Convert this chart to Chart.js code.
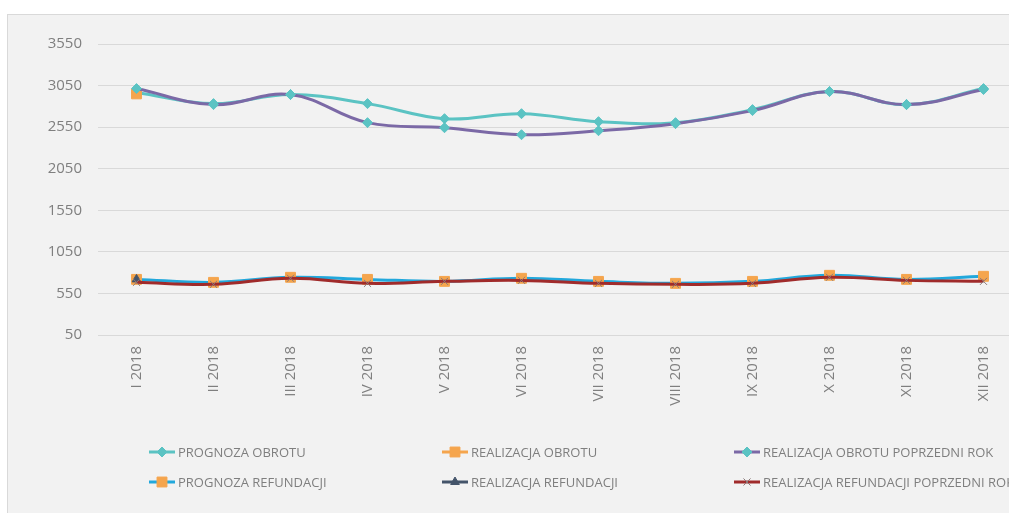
<!DOCTYPE html>
<html>
<head>
<meta charset="utf-8">
<script src="https://cdn.jsdelivr.net/npm/chart.js@4.4.1/dist/chart.umd.min.js"></script>
<style>
  html, body { margin: 0; padding: 0; background: #fff; overflow: hidden; width: 1009px; height: 513px; }
  #frame { position: absolute; left: 7px; top: 14px; width: 1040px; height: 498px; background: #f2f2f2;
           border-left: 1px solid #d9d9d9; border-top: 1px solid #d9d9d9; }
  #frame canvas { display: block; }
</style>
</head>
<body>
<div id="frame"><canvas id="chart" width="1040" height="498"></canvas></div>
<script>
var months = ['I 2018', 'II 2018', 'III 2018', 'IV 2018', 'V 2018', 'VI 2018',
              'VII 2018', 'VIII 2018', 'IX 2018', 'X 2018', 'XI 2018', 'XII 2018'];

var prognozaObrotu = [2966, 2833, 2942, 2833, 2652, 2712, 2616, 2604, 2761, 2978, 2821, 3014];
var realizacjaObrotu = [2950, null, null, null, null, null, null, null, null, null, null, null];
var realizacjaObrotuPoprzedni = [3014, 2821, 2942, 2604, 2543, 2459, 2507, 2592, 2749, 2978, 2821, 3002];
var prognozaRefundacji = [719, 683, 744, 719, 695, 732, 695, 671, 695, 768, 719, 756];
var realizacjaRefundacji = [719, null, null, null, null, null, null, null, null, null, null, null];
var realizacjaRefundacjiPoprzedni = [683, 659, 732, 671, 695, 707, 671, 659, 671, 744, 707, 695];

var seriesNames = ['PROGNOZA OBROTU', 'REALIZACJA OBROTU', 'REALIZACJA OBROTU POPRZEDNI ROK',
                   'PROGNOZA REFUNDACJI', 'REALIZACJA REFUNDACJI', 'REALIZACJA REFUNDACJI POPRZEDNI ROK'];

var yTicks = [50, 550, 1050, 1550, 2050, 2550, 3050, 3550];

var teal = '#5bc3c3', orange = '#f5a54d', purple = '#7b69a6',
    blue = '#22a8dc', navy = '#44546a', darkRed = '#a02b2b', grey = '#7f7f7f';

function series(i, data, line, marker, style, radius) {
    return {
        label: seriesNames[i],
        data: data,
        borderColor: line,
        backgroundColor: marker,
        borderWidth: 3,
        tension: 0.4,
        pointStyle: style,
        pointRadius: radius,
        pointBackgroundColor: marker,
        pointBorderColor: marker,
        pointBorderWidth: 1,
        order: 6 - i
    };
}

var datasets = [
    series(0, prognozaObrotu, teal, teal, 'rectRot', 5),
    series(1, realizacjaObrotu, orange, orange, 'rect', 7),
    series(2, realizacjaObrotuPoprzedni, purple, teal, 'rectRot', 5),
    series(3, prognozaRefundacji, blue, orange, 'rect', 7),
    series(4, realizacjaRefundacji, navy, navy, 'triangle', 5),
    series(5, realizacjaRefundacjiPoprzedni, darkRed, '#8a7a7a', 'crossRot', 5)
];

// legend laid out in a 3 x 2 grid like the Excel original
var gridLegend = {
    id: 'gridLegend',
    afterDraw: function (chart) {
        var ctx = chart.ctx;
        var cols = [141, 434, 726], rows = [437, 467];
        ctx.save();
        chart.data.datasets.forEach(function (ds, i) {
            var x = cols[i % 3], y = rows[Math.floor(i / 3)];
            ctx.strokeStyle = ds.borderColor;
            ctx.lineWidth = 3;
            ctx.beginPath();
            ctx.moveTo(x, y);
            ctx.lineTo(x + 26, y);
            ctx.stroke();
            ctx.fillStyle = ds.pointBackgroundColor;
            ctx.strokeStyle = ds.pointBorderColor;
            ctx.lineWidth = 1;
            Chart.helpers.drawPoint(ctx, {
                pointStyle: ds.pointStyle,
                radius: ds.pointRadius,
                borderWidth: 1,
                rotation: 0
            }, x + 13, y);
            ctx.fillStyle = grey;
            ctx.font = '13px "Open Sans"';
            ctx.textBaseline = 'middle';
            ctx.textAlign = 'left';
            ctx.fillText(ds.label, x + 29, y + 1);
        });
        ctx.restore();
    }
};

new Chart(document.getElementById('chart').getContext('2d'), {
    type: 'line',
    data: { labels: months, datasets: datasets },
    plugins: [gridLegend],
    options: {
        responsive: false,
        animation: false,
        layout: { padding: { top: 29, left: 8, right: 26, bottom: 0 } },
        plugins: { legend: { display: false }, tooltip: { enabled: false } },
        scales: {
            x: {
                offset: true,
                grid: { display: false, drawTicks: false },
                border: { display: false },
                ticks: {
                    color: grey,
                    font: { family: 'Open Sans', size: 15 },
                    minRotation: 90,
                    maxRotation: 90,
                    padding: 11,
                    autoSkip: false
                },
                afterFit: function (scale) { scale.height = 178; }
            },
            y: {
                min: yTicks[0],
                max: yTicks[yTicks.length - 1],
                afterBuildTicks: function (scale) {
                    scale.ticks = yTicks.map(function (v) { return { value: v }; });
                },
                grid: { color: '#d9d9d9', lineWidth: 1, drawTicks: false },
                border: { display: false },
                ticks: {
                    color: grey,
                    font: { family: 'Open Sans', size: 15 },
                    padding: 16,
                    callback: function (v) { return String(v); }
                },
                afterFit: function (scale) { scale.width = 82; }
            }
        }
    }
});
</script>
</body>
</html>
